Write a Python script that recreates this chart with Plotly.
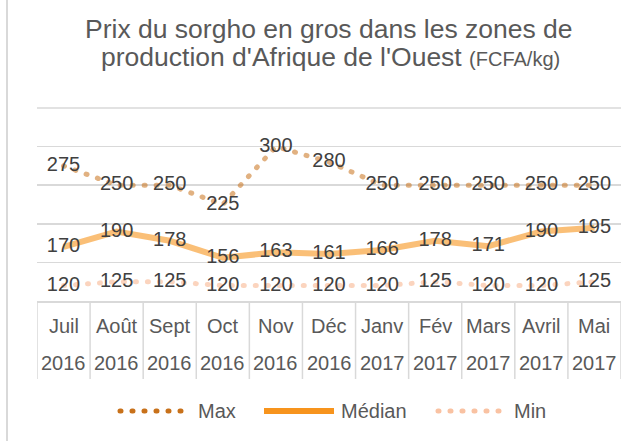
import plotly.graph_objects as go

months = ["Juil", "Août", "Sept", "Oct", "Nov", "Déc", "Janv", "Fév", "Mars", "Avril", "Mai"]
years = ["2016", "2016", "2016", "2016", "2016", "2016", "2017", "2017", "2017", "2017", "2017"]
max_vals = [275, 250, 250, 225, 300, 280, 250, 250, 250, 250, 250]
median_vals = [170, 190, 178, 156, 163, 161, 166, 178, 171, 190, 195]
min_vals = [120, 125, 125, 120, 120, 120, 120, 125, 120, 120, 125]

W, H = 642, 441
L, R, T, B = 37, 621, 108, 301  # plot area in pixels
FONT = "Liberation Sans, Arial, sans-serif"
LABEL_COLOR = "#404040"
AXIS_COLOR = "#595959"
GRID = "#D9D9D9"

MAX_C = "#C8711A"
MED_C = "#F7941D"
MIN_C = "#F9C2A2"
DOTS = "1px,11px"
Y_MIN, Y_MAX = 100, 350

def px_x(p):
    return (p - L) / (R - L)

def px_y(p):
    return (B - p) / (B - T)

x = list(range(len(months)))

fig = go.Figure()
fig.add_trace(go.Scatter(
    x=x, y=max_vals, mode="lines+text", name="Max",
    line=dict(color="rgba(200,113,26,0.55)", width=5, dash=DOTS),
    text=[str(v) for v in max_vals], textposition="middle center",
    textfont=dict(size=20, color=LABEL_COLOR, family=FONT),
    showlegend=False, cliponaxis=False, hoverinfo="skip"))
fig.add_trace(go.Scatter(
    x=x, y=median_vals, mode="lines+text", name="Médian",
    line=dict(color="rgba(247,148,29,0.6)", width=6),
    text=[str(v) for v in median_vals], textposition="middle center",
    textfont=dict(size=20, color=LABEL_COLOR, family=FONT),
    showlegend=False, cliponaxis=False, hoverinfo="skip"))
fig.add_trace(go.Scatter(
    x=x, y=min_vals, mode="lines+text", name="Min",
    line=dict(color="rgba(249,194,162,0.7)", width=5, dash=DOTS),
    text=[str(v) for v in min_vals], textposition="middle center",
    textfont=dict(size=20, color=LABEL_COLOR, family=FONT),
    showlegend=False, cliponaxis=False, hoverinfo="skip"))

shapes = []
annotations = []

# top gridline (edge of range), drawn in paper coordinates
shapes.append(dict(type="line", xref="paper", yref="paper", x0=0, x1=1, y0=1, y1=1,
                   line=dict(color=GRID, width=1.5)))

# category table lines
for k in range(len(months) + 1):
    shapes.append(dict(type="line", xref="x", yref="paper", x0=k - 0.5, x1=k - 0.5,
                       y0=px_y(301), y1=px_y(379), line=dict(color=GRID, width=1.5)))
for i, (m, yv) in enumerate(zip(months, years)):
    annotations.append(dict(xref="x", yref="paper", x=i, y=px_y(326), text=m, showarrow=False,
                            font=dict(size=20, color=AXIS_COLOR, family=FONT), xanchor="center", yanchor="middle"))
    annotations.append(dict(xref="x", yref="paper", x=i, y=px_y(363), text=yv, showarrow=False,
                            font=dict(size=20, color=AXIS_COLOR, family=FONT), xanchor="center", yanchor="middle"))

# left border of chart frame
shapes.append(dict(type="line", xref="paper", yref="paper", x0=px_x(7), x1=px_x(7),
                   y0=px_y(0), y1=px_y(441), line=dict(color=GRID, width=2)))

# title
annotations.append(dict(xref="paper", yref="paper", x=px_x(329), y=px_y(29),
                        text="Prix du sorgho en gros dans les zones de", showarrow=False,
                        font=dict(size=26.5, color=AXIS_COLOR, family=FONT), xanchor="center", yanchor="middle"))
annotations.append(dict(xref="paper", yref="paper", x=px_x(330), y=px_y(57),
                        text="production d'Afrique de l'Ouest <span style='font-size:20px'>(FCFA/kg)</span>",
                        showarrow=False,
                        font=dict(size=26.5, color=AXIS_COLOR, family=FONT), xanchor="center", yanchor="middle"))

# custom legend
LY = 411
legend_items = [
    ("Max", MAX_C, 120, 185, 196, DOTS, 5),
    ("Médian", MED_C, 264, 334, 339, None, 6),
    ("Min", MIN_C, 438, 502, 512, DOTS, 5),
]
for name, col, xa, xb, xt, dash, w in legend_items:
    ln = dict(color=col, width=w)
    if dash:
        ln["dash"] = dash
    shapes.append(dict(type="line", xref="paper", yref="paper", x0=px_x(xa), x1=px_x(xb),
                       y0=px_y(LY), y1=px_y(LY), line=ln))
    annotations.append(dict(xref="paper", yref="paper", x=px_x(xt), y=px_y(LY), text=name,
                            showarrow=False, xanchor="left", yanchor="middle",
                            font=dict(size=20, color=AXIS_COLOR, family=FONT)))

fig.update_layout(
    width=W, height=H,
    margin=dict(l=L, r=W - R, t=T, b=H - B),
    paper_bgcolor="white", plot_bgcolor="white",
    showlegend=False, hovermode=False,
    xaxis=dict(range=[-0.5, len(months) - 0.5], showgrid=False, zeroline=False,
               showticklabels=False, ticks="", showline=True, linecolor=GRID, linewidth=1.5),
    yaxis=dict(range=[Y_MIN, Y_MAX], dtick=50, showgrid=True, gridcolor=GRID, gridwidth=1.5,
               zeroline=False, showticklabels=False, ticks="", showline=False),
    shapes=shapes, annotations=annotations,
    font=dict(family=FONT),
)

post = """
document.body.style.margin = '0px';
document.body.style.overflow = 'hidden';
document.querySelectorAll('path').forEach(function(p){
  var d = p.style.strokeDasharray || p.getAttribute('stroke-dasharray');
  if (d && d !== 'none') { p.style.strokeLinecap = 'round'; }
});
"""
fig.write_html("out.html", post_script=post, config={"displayModeBar": False, "staticPlot": True})
